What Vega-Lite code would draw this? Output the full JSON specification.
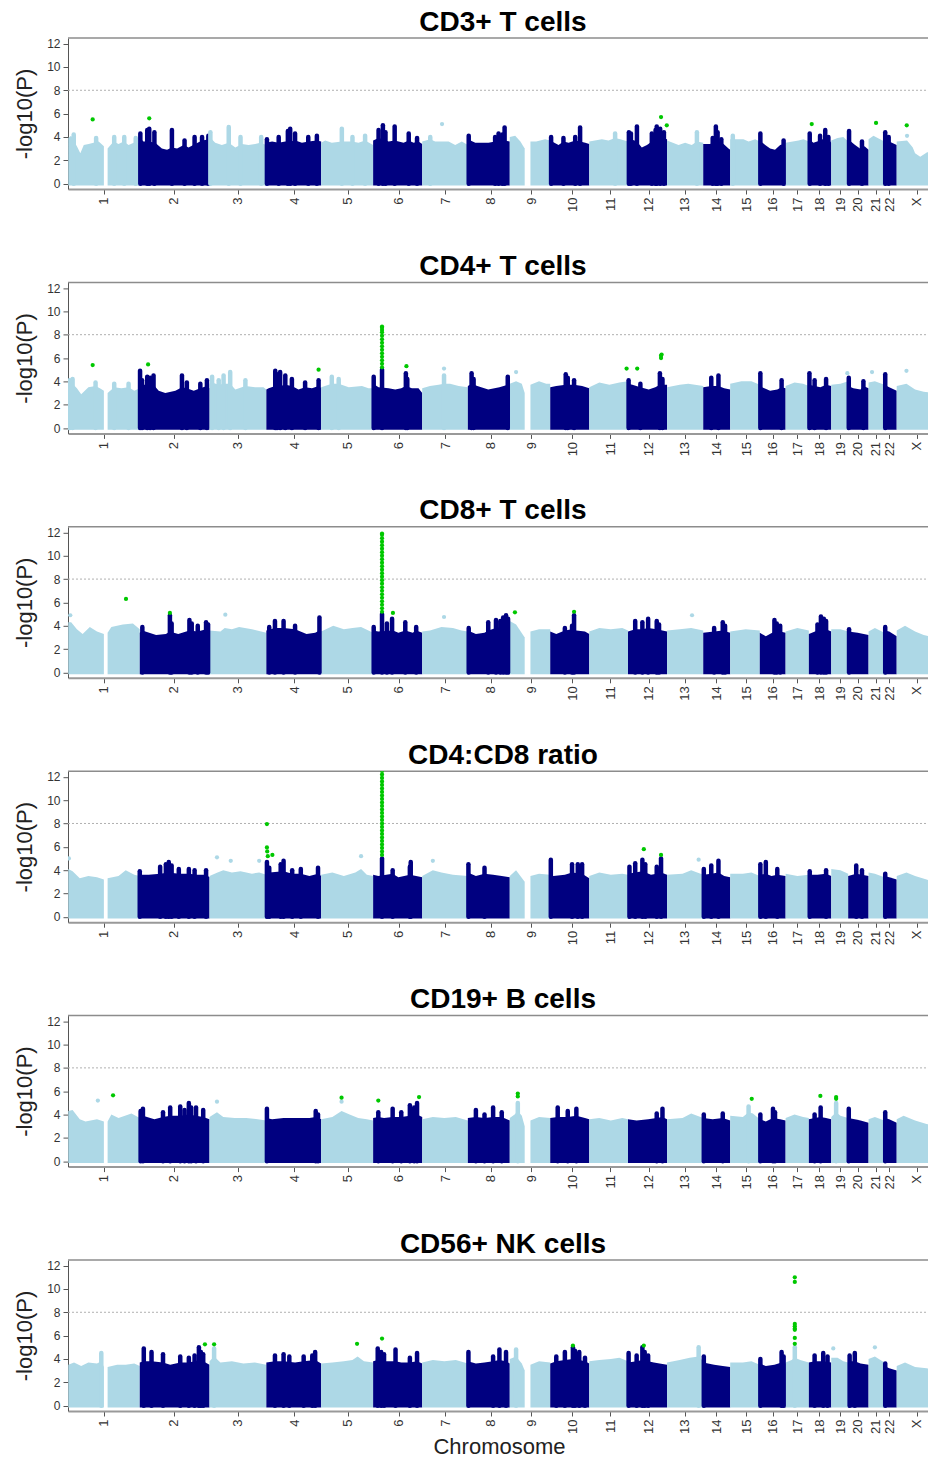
{
"$schema":"https://vega.github.io/schema/vega-lite/v6.json",
"padding":{"left":13,"top":8,"right":0,"bottom":0},
"background":"white",
"config":{"view":{"stroke":null},"font":"Liberation Sans",
"axis":{"grid":false,"tickSize":5,"labelPadding":3,"labelColor":"#333","titleColor":"#222","titleFontWeight":"normal","titleFontSize":22,"labelFont":"Liberation Sans","titleFont":"Liberation Sans"},
"axisY":{"domainColor":"#555","tickColor":"#555","labelFontSize":12,"titlePadding":10},
"axisX":{"domainColor":"#999","domainWidth":2,"tickColor":"#555","labelFontSize":13,"labelAngle":270,"titlePadding":3},
"title":{"fontSize":28,"fontWeight":"bold","color":"#000","anchor":"middle","dx":4,"offset":0.7,"baseline":"alphabetic","font":"Liberation Sans"}},
"datasets":{
"a1":[{"g":"1a","x":0,"y":3.9},{"g":"1a","x":10,"y":4.1},{"g":"1a","x":20,"y":3.6},{"g":"1a","x":30,"y":3.2},{"g":"1a","x":42,"y":2.6},{"g":"1a","x":54,"y":3.3},{"g":"1a","x":71,"y":3.4},{"g":"1a","x":88,"y":3.5},{"g":"1a","x":106,"y":3.6},{"g":"1a","x":124,"y":3.2},
{"g":"1b","x":137,"y":3.0},{"g":"1b","x":158,"y":3.6},{"g":"1b","x":175,"y":3.4},{"g":"1b","x":193,"y":3.6},{"g":"1b","x":210,"y":3.3},{"g":"1b","x":228,"y":3.5},{"g":"1b","x":249,"y":3.5},
{"g":"2","x":249,"y":3.9},{"g":"2","x":262,"y":3.6},{"g":"2","x":280,"y":3.6},{"g":"2","x":303,"y":3.5},{"g":"2","x":326,"y":3.0},{"g":"2","x":344,"y":2.9},{"g":"2","x":361,"y":3.1},{"g":"2","x":379,"y":3.0},{"g":"2","x":402,"y":3.3},{"g":"2","x":419,"y":3.1},{"g":"2","x":442,"y":3.4},{"g":"2","x":466,"y":3.7},{"g":"2","x":492,"y":3.8},
{"g":"3","x":492,"y":4.0},{"g":"3","x":512,"y":3.5},{"g":"3","x":535,"y":3.3},{"g":"3","x":559,"y":3.5},{"g":"3","x":582,"y":3.1},{"g":"3","x":605,"y":3.4},{"g":"3","x":628,"y":3.3},{"g":"3","x":651,"y":3.4},{"g":"3","x":669,"y":3.5},{"g":"3","x":690,"y":3.3},
{"g":"4","x":690,"y":3.5},{"g":"4","x":710,"y":3.6},{"g":"4","x":733,"y":3.5},{"g":"4","x":756,"y":3.6},{"g":"4","x":773,"y":3.6},{"g":"4","x":791,"y":3.7},{"g":"4","x":814,"y":3.5},{"g":"4","x":837,"y":3.6},{"g":"4","x":866,"y":3.7},{"g":"4","x":881,"y":3.6},
{"g":"5","x":881,"y":3.5},{"g":"5","x":895,"y":3.7},{"g":"5","x":918,"y":3.5},{"g":"5","x":953,"y":3.6},{"g":"5","x":988,"y":3.6},{"g":"5","x":1011,"y":3.5},{"g":"5","x":1034,"y":3.7},{"g":"5","x":1062,"y":3.3},
{"g":"6","x":1062,"y":3.7},{"g":"6","x":1081,"y":3.9},{"g":"6","x":1096,"y":3.8},{"g":"6","x":1116,"y":3.6},{"g":"6","x":1137,"y":3.7},{"g":"6","x":1151,"y":3.6},{"g":"6","x":1168,"y":3.5},{"g":"6","x":1186,"y":3.7},{"g":"6","x":1203,"y":3.5},{"g":"6","x":1220,"y":3.6},{"g":"6","x":1233,"y":3.4},
{"g":"7","x":1233,"y":3.6},{"g":"7","x":1261,"y":3.8},{"g":"7","x":1278,"y":3.6},{"g":"7","x":1302,"y":3.6},{"g":"7","x":1325,"y":3.6},{"g":"7","x":1348,"y":3.3},{"g":"7","x":1371,"y":3.6},{"g":"7","x":1392,"y":3.3},
{"g":"8","x":1392,"y":3.8},{"g":"8","x":1418,"y":3.5},{"g":"8","x":1441,"y":3.5},{"g":"8","x":1464,"y":3.5},{"g":"8","x":1487,"y":3.6},{"g":"8","x":1499,"y":3.7},{"g":"8","x":1520,"y":3.7},{"g":"8","x":1538,"y":3.6},
{"g":"9a","x":1538,"y":4.0},{"g":"9a","x":1557,"y":4.1},{"g":"9a","x":1575,"y":3.6},{"g":"9a","x":1590,"y":3.0},
{"g":"9b","x":1610,"y":3.6},{"g":"9b","x":1630,"y":3.6},{"g":"9b","x":1661,"y":3.8},{"g":"9b","x":1679,"y":3.7},
{"g":"10","x":1679,"y":3.7},{"g":"10","x":1708,"y":3.3},{"g":"10","x":1725,"y":3.6},{"g":"10","x":1743,"y":3.5},{"g":"10","x":1766,"y":3.7},{"g":"10","x":1783,"y":3.6},{"g":"10","x":1801,"y":3.5},{"g":"10","x":1815,"y":3.4},
{"g":"11","x":1815,"y":3.6},{"g":"11","x":1859,"y":3.8},{"g":"11","x":1882,"y":3.7},{"g":"11","x":1905,"y":3.9},{"g":"11","x":1923,"y":3.8},{"g":"11","x":1950,"y":3.6},
{"g":"12","x":1950,"y":3.9},{"g":"12","x":1981,"y":3.6},{"g":"12","x":1998,"y":3.1},{"g":"12","x":2016,"y":3.3},{"g":"12","x":2033,"y":3.6},{"g":"12","x":2050,"y":3.8},{"g":"12","x":2068,"y":3.9},{"g":"12","x":2086,"y":3.8},
{"g":"13","x":2086,"y":3.7},{"g":"13","x":2126,"y":3.3},{"g":"13","x":2149,"y":3.5},{"g":"13","x":2172,"y":3.3},{"g":"13","x":2190,"y":3.6},{"g":"13","x":2212,"y":3.5},
{"g":"14","x":2212,"y":3.4},{"g":"14","x":2236,"y":3.4},{"g":"14","x":2256,"y":3.6},{"g":"14","x":2265,"y":3.6},{"g":"14","x":2283,"y":3.4},{"g":"14","x":2300,"y":3.0},{"g":"14","x":2306,"y":2.9},
{"g":"15","x":2306,"y":3.8},{"g":"15","x":2352,"y":3.8},{"g":"15","x":2370,"y":3.6},{"g":"15","x":2393,"y":3.8},{"g":"15","x":2409,"y":3.6},
{"g":"16","x":2409,"y":3.7},{"g":"16","x":2428,"y":3.3},{"g":"16","x":2445,"y":3.0},{"g":"16","x":2462,"y":2.9},{"g":"16","x":2480,"y":3.3},{"g":"16","x":2492,"y":3.4},{"g":"16","x":2499,"y":3.0},
{"g":"17","x":2499,"y":3.5},{"g":"17","x":2544,"y":3.7},{"g":"17","x":2561,"y":3.8},{"g":"17","x":2580,"y":3.6},
{"g":"18","x":2580,"y":3.8},{"g":"18","x":2596,"y":3.5},{"g":"18","x":2619,"y":3.7},{"g":"18","x":2637,"y":3.9},{"g":"18","x":2648,"y":3.8},{"g":"18","x":2658,"y":3.5},
{"g":"19","x":2658,"y":3.7},{"g":"19","x":2680,"y":3.9},{"g":"19","x":2700,"y":4.0},{"g":"19","x":2717,"y":3.6},
{"g":"20","x":2717,"y":3.8},{"g":"20","x":2741,"y":3.3},{"g":"20","x":2758,"y":3.0},{"g":"20","x":2774,"y":3.2},{"g":"20","x":2788,"y":2.9},
{"g":"21","x":2788,"y":3.8},{"g":"21","x":2805,"y":4.1},{"g":"21","x":2843,"y":3.6},
{"g":"22","x":2843,"y":3.9},{"g":"22","x":2860,"y":3.6},{"g":"22","x":2886,"y":3.3},
{"g":"X","x":2886,"y":3.6},{"g":"X","x":2922,"y":3.7},{"g":"X","x":2942,"y":3.1},{"g":"X","x":2950,"y":2.6},{"g":"X","x":2968,"y":2.3},{"g":"X","x":2992,"y":2.7},{"g":"X","x":3034,"y":2.7}],
"s1":[{"g":"1a","x":19,"y":4.2},{"g":"1a","x":97,"y":3.9},{"g":"1b","x":160,"y":4.0},{"g":"1b","x":195,"y":4.0},{"g":"1b","x":235,"y":3.9},
{"g":"2","x":251,"y":4.3},{"g":"2","x":275,"y":4.6},{"g":"2","x":282,"y":4.7},{"g":"2","x":300,"y":4.4},{"g":"2","x":361,"y":4.6},{"g":"2","x":405,"y":3.7},{"g":"2","x":440,"y":4.0},{"g":"2","x":466,"y":4.0},{"g":"2","x":488,"y":4.1},
{"g":"3","x":495,"y":4.4},{"g":"3","x":559,"y":4.85},{"g":"3","x":600,"y":4.0},{"g":"3","x":672,"y":4.0},
{"g":"4","x":692,"y":3.8},{"g":"4","x":733,"y":4.0},{"g":"4","x":765,"y":4.5},{"g":"4","x":773,"y":4.7},{"g":"4","x":790,"y":4.3},{"g":"4","x":836,"y":4.0},{"g":"4","x":866,"y":4.1},
{"g":"5","x":953,"y":4.7},{"g":"5","x":990,"y":4.0},{"g":"5","x":1034,"y":4.1},
{"g":"6","x":1081,"y":4.6},{"g":"6","x":1096,"y":5.0},{"g":"6","x":1105,"y":4.4},{"g":"6","x":1137,"y":4.9},{"g":"6","x":1186,"y":4.3},{"g":"6","x":1215,"y":3.9},
{"g":"7","x":1261,"y":4.0},
{"g":"8","x":1395,"y":4.1},{"g":"8","x":1487,"y":4.0},{"g":"8","x":1499,"y":4.3},{"g":"8","x":1512,"y":4.2},{"g":"8","x":1520,"y":4.8},
{"g":"10","x":1682,"y":4.0},{"g":"10","x":1725,"y":3.9},{"g":"10","x":1766,"y":4.0},{"g":"10","x":1783,"y":4.8},
{"g":"11","x":1905,"y":4.3},
{"g":"12","x":1953,"y":4.4},{"g":"12","x":1960,"y":4.3},{"g":"12","x":1981,"y":4.9},{"g":"12","x":2033,"y":4.3},{"g":"12","x":2046,"y":4.6},{"g":"12","x":2050,"y":4.9},{"g":"12","x":2062,"y":4.7},{"g":"12","x":2075,"y":4.4},
{"g":"13","x":2190,"y":4.4},
{"g":"14","x":2245,"y":3.9},{"g":"14","x":2256,"y":4.9},{"g":"14","x":2262,"y":4.4},{"g":"14","x":2275,"y":3.8},
{"g":"15","x":2315,"y":4.1},
{"g":"16","x":2411,"y":4.3},{"g":"16","x":2492,"y":3.7},
{"g":"18","x":2583,"y":4.3},{"g":"18","x":2619,"y":4.1},{"g":"18","x":2637,"y":4.6},{"g":"18","x":2648,"y":4.0},
{"g":"20","x":2720,"y":4.5},{"g":"20","x":2765,"y":3.6},
{"g":"22","x":2846,"y":4.4},{"g":"22","x":2858,"y":4.0}],
"p1":[{"g":"7","x":1302,"y":5.1},{"g":"X","x":2922,"y":4.1},
{"g":"G","x":85,"y":5.5},{"g":"G","x":282,"y":5.6},{"g":"G","x":2065,"y":5.7},{"g":"G","x":2085,"y":5.0},{"g":"G","x":2590,"y":5.1},{"g":"G","x":2814,"y":5.2},{"g":"G","x":2921,"y":5.0}],
"a2":[{"g":"1a","x":0,"y":3.9},{"g":"1a","x":15,"y":3.8},{"g":"1a","x":30,"y":3.4},{"g":"1a","x":45,"y":2.9},{"g":"1a","x":70,"y":3.5},{"g":"1a","x":95,"y":3.6},{"g":"1a","x":110,"y":3.4},{"g":"1a","x":124,"y":3.2},
{"g":"1b","x":137,"y":3.0},{"g":"1b","x":160,"y":3.5},{"g":"1b","x":185,"y":3.4},{"g":"1b","x":210,"y":3.5},{"g":"1b","x":230,"y":3.2},{"g":"1b","x":249,"y":3.4},
{"g":"2","x":249,"y":3.9},{"g":"2","x":257,"y":3.7},{"g":"2","x":280,"y":3.7},{"g":"2","x":297,"y":3.7},{"g":"2","x":315,"y":3.2},{"g":"2","x":338,"y":3.0},{"g":"2","x":373,"y":3.2},{"g":"2","x":396,"y":3.5},{"g":"2","x":413,"y":3.4},{"g":"2","x":437,"y":3.2},{"g":"2","x":460,"y":3.4},{"g":"2","x":483,"y":3.6},{"g":"2","x":492,"y":3.4},
{"g":"3","x":492,"y":3.8},{"g":"3","x":501,"y":3.9},{"g":"3","x":524,"y":3.7},{"g":"3","x":541,"y":3.8},{"g":"3","x":564,"y":3.8},{"g":"3","x":582,"y":3.3},{"g":"3","x":617,"y":3.6},{"g":"3","x":651,"y":3.5},{"g":"3","x":680,"y":3.5},{"g":"3","x":690,"y":3.3},
{"g":"4","x":690,"y":3.3},{"g":"4","x":698,"y":3.4},{"g":"4","x":721,"y":3.6},{"g":"4","x":738,"y":3.6},{"g":"4","x":756,"y":3.7},{"g":"4","x":779,"y":3.6},{"g":"4","x":802,"y":3.3},{"g":"4","x":825,"y":3.5},{"g":"4","x":849,"y":3.4},{"g":"4","x":872,"y":3.6},{"g":"4","x":881,"y":3.4},
{"g":"5","x":881,"y":3.5},{"g":"5","x":918,"y":3.8},{"g":"5","x":942,"y":3.8},{"g":"5","x":977,"y":3.5},{"g":"5","x":1023,"y":3.6},{"g":"5","x":1046,"y":3.4},{"g":"5","x":1062,"y":3.4},
{"g":"6","x":1062,"y":3.8},{"g":"6","x":1081,"y":3.5},{"g":"6","x":1116,"y":3.4},{"g":"6","x":1139,"y":3.3},{"g":"6","x":1160,"y":3.4},{"g":"6","x":1176,"y":3.6},{"g":"6","x":1197,"y":3.4},{"g":"6","x":1220,"y":3.4},{"g":"6","x":1233,"y":3.0},
{"g":"7","x":1233,"y":3.4},{"g":"7","x":1260,"y":3.6},{"g":"7","x":1290,"y":3.7},{"g":"7","x":1309,"y":3.8},{"g":"7","x":1330,"y":3.8},{"g":"7","x":1360,"y":3.6},{"g":"7","x":1392,"y":3.5},
{"g":"8","x":1392,"y":3.6},{"g":"8","x":1405,"y":3.8},{"g":"8","x":1425,"y":3.6},{"g":"8","x":1463,"y":3.3},{"g":"8","x":1502,"y":3.5},{"g":"8","x":1531,"y":3.7},{"g":"8","x":1538,"y":3.5},
{"g":"9a","x":1538,"y":3.8},{"g":"9a","x":1560,"y":4.0},{"g":"9a","x":1580,"y":3.8},{"g":"9a","x":1590,"y":3.0},
{"g":"9b","x":1610,"y":3.7},{"g":"9b","x":1640,"y":4.0},{"g":"9b","x":1665,"y":3.8},{"g":"9b","x":1679,"y":3.8},
{"g":"10","x":1679,"y":3.5},{"g":"10","x":1700,"y":3.6},{"g":"10","x":1733,"y":3.7},{"g":"10","x":1762,"y":3.7},{"g":"10","x":1790,"y":3.6},{"g":"10","x":1815,"y":3.4},
{"g":"11","x":1815,"y":3.5},{"g":"11","x":1850,"y":3.9},{"g":"11","x":1885,"y":3.7},{"g":"11","x":1920,"y":3.9},{"g":"11","x":1950,"y":4.0},
{"g":"12","x":1950,"y":3.8},{"g":"12","x":1965,"y":3.7},{"g":"12","x":1993,"y":3.5},{"g":"12","x":2022,"y":3.3},{"g":"12","x":2045,"y":3.5},{"g":"12","x":2061,"y":3.7},{"g":"12","x":2086,"y":3.7},
{"g":"13","x":2086,"y":3.5},{"g":"13","x":2130,"y":3.7},{"g":"13","x":2160,"y":3.8},{"g":"13","x":2212,"y":3.6},
{"g":"14","x":2212,"y":3.5},{"g":"14","x":2240,"y":3.6},{"g":"14","x":2265,"y":3.6},{"g":"14","x":2285,"y":3.4},{"g":"14","x":2306,"y":3.3},
{"g":"15","x":2306,"y":3.8},{"g":"15","x":2345,"y":4.0},{"g":"15","x":2380,"y":4.0},{"g":"15","x":2409,"y":3.7},
{"g":"16","x":2409,"y":3.6},{"g":"16","x":2425,"y":3.4},{"g":"16","x":2445,"y":3.2},{"g":"16","x":2470,"y":3.3},{"g":"16","x":2485,"y":3.5},{"g":"16","x":2499,"y":3.4},
{"g":"17","x":2499,"y":3.6},{"g":"17","x":2530,"y":3.9},{"g":"17","x":2560,"y":3.8},{"g":"17","x":2580,"y":3.6},
{"g":"18","x":2580,"y":3.7},{"g":"18","x":2600,"y":3.6},{"g":"18","x":2620,"y":3.5},{"g":"18","x":2640,"y":3.7},{"g":"18","x":2658,"y":3.6},
{"g":"19","x":2658,"y":3.7},{"g":"19","x":2690,"y":3.8},{"g":"19","x":2717,"y":4.0},
{"g":"20","x":2717,"y":3.6},{"g":"20","x":2735,"y":3.4},{"g":"20","x":2760,"y":3.3},{"g":"20","x":2770,"y":3.6},{"g":"20","x":2788,"y":3.4},
{"g":"21","x":2788,"y":3.9},{"g":"21","x":2810,"y":4.0},{"g":"21","x":2843,"y":3.7},
{"g":"22","x":2843,"y":3.7},{"g":"22","x":2860,"y":3.5},{"g":"22","x":2886,"y":3.2},
{"g":"X","x":2886,"y":3.6},{"g":"X","x":2920,"y":3.8},{"g":"X","x":2950,"y":3.3},{"g":"X","x":2980,"y":3.1},{"g":"X","x":3034,"y":3.0}],
"s2":[{"g":"1a","x":5,"y":4.1},{"g":"1a","x":15,"y":4.2},{"g":"1a","x":95,"y":3.9},{"g":"1b","x":160,"y":3.8},{"g":"1b","x":210,"y":3.8},
{"g":"2","x":250,"y":4.9},{"g":"2","x":257,"y":4.1},{"g":"2","x":275,"y":4.4},{"g":"2","x":285,"y":4.3},{"g":"2","x":297,"y":4.5},{"g":"2","x":396,"y":4.5},{"g":"2","x":413,"y":3.9},{"g":"2","x":460,"y":3.8},{"g":"2","x":483,"y":4.1},
{"g":"3","x":501,"y":4.4},{"g":"3","x":524,"y":4.1},{"g":"3","x":541,"y":4.5},{"g":"3","x":564,"y":4.8},{"g":"3","x":617,"y":4.1},
{"g":"4","x":721,"y":4.9},{"g":"4","x":727,"y":4.6},{"g":"4","x":738,"y":4.8},{"g":"4","x":756,"y":4.5},{"g":"4","x":779,"y":4.2},{"g":"4","x":825,"y":3.9},{"g":"4","x":872,"y":4.1},
{"g":"5","x":918,"y":4.4},{"g":"5","x":942,"y":4.2},
{"g":"6","x":1064,"y":4.4},{"g":"6","x":1093,"y":5.0},{"g":"6","x":1176,"y":4.7},{"g":"6","x":1181,"y":4.2},
{"g":"7","x":1309,"y":4.5},
{"g":"8","x":1405,"y":4.7},{"g":"8","x":1412,"y":4.2},{"g":"8","x":1531,"y":4.4},
{"g":"10","x":1733,"y":4.6},{"g":"10","x":1740,"y":4.3},{"g":"10","x":1762,"y":4.1},
{"g":"12","x":1952,"y":4.1},{"g":"12","x":1993,"y":3.8},{"g":"12","x":2061,"y":4.7},{"g":"12","x":2070,"y":4.2},
{"g":"14","x":2240,"y":4.3},{"g":"14","x":2265,"y":4.5},
{"g":"16","x":2411,"y":4.7},{"g":"16","x":2485,"y":4.1},
{"g":"18","x":2582,"y":4.7},{"g":"18","x":2600,"y":4.1},{"g":"18","x":2640,"y":4.2},
{"g":"20","x":2719,"y":4.3},{"g":"20","x":2770,"y":4.0},
{"g":"22","x":2846,"y":4.6}],
"p2":[{"g":"7","x":1309,"y":5.1},{"g":"9a","x":1560,"y":4.8},{"g":"19","x":2714,"y":4.7},{"g":"21","x":2800,"y":4.8},{"g":"X","x":2920,"y":4.9},
{"g":"G","x":85,"y":5.4},{"g":"G","x":278,"y":5.45},{"g":"G","x":872,"y":5.0},{"g":"G","x":1093,"y":5.2},{"g":"G","x":1093,"y":5.5},{"g":"G","x":1093,"y":5.8},{"g":"G","x":1093,"y":6.1},{"g":"G","x":1093,"y":6.4},{"g":"G","x":1093,"y":6.7},{"g":"G","x":1093,"y":7.0},{"g":"G","x":1093,"y":7.3},{"g":"G","x":1093,"y":7.6},{"g":"G","x":1093,"y":7.9},{"g":"G","x":1093,"y":8.2},{"g":"G","x":1093,"y":8.4},{"g":"G","x":1093,"y":8.6},{"g":"G","x":1093,"y":8.7},{"g":"G","x":1178,"y":5.3},{"g":"G","x":1945,"y":5.1},{"g":"G","x":1982,"y":5.1},{"g":"G","x":2065,"y":6.0},{"g":"G","x":2065,"y":6.2},{"g":"G","x":2067,"y":6.3}],
"a3":[{"g":"1a","x":0,"y":4.3},{"g":"1a","x":10,"y":4.3},{"g":"1a","x":30,"y":3.7},{"g":"1a","x":50,"y":3.3},{"g":"1a","x":75,"y":3.9},{"g":"1a","x":100,"y":3.5},{"g":"1a","x":124,"y":3.3},
{"g":"1b","x":137,"y":3.4},{"g":"1b","x":150,"y":3.9},{"g":"1b","x":190,"y":4.1},{"g":"1b","x":225,"y":4.2},{"g":"1b","x":249,"y":3.7},
{"g":"2","x":249,"y":3.4},{"g":"2","x":258,"y":3.6},{"g":"2","x":306,"y":3.2},{"g":"2","x":340,"y":3.3},{"g":"2","x":354,"y":3.5},{"g":"2","x":368,"y":3.4},{"g":"2","x":383,"y":3.3},{"g":"2","x":422,"y":3.6},{"g":"2","x":451,"y":3.5},{"g":"2","x":480,"y":3.7},{"g":"2","x":492,"y":3.4},
{"g":"3","x":492,"y":3.6},{"g":"3","x":530,"y":3.5},{"g":"3","x":545,"y":3.8},{"g":"3","x":570,"y":3.7},{"g":"3","x":595,"y":3.9},{"g":"3","x":640,"y":3.7},{"g":"3","x":690,"y":3.4},
{"g":"4","x":690,"y":3.6},{"g":"4","x":720,"y":3.8},{"g":"4","x":750,"y":3.8},{"g":"4","x":790,"y":3.7},{"g":"4","x":830,"y":3.3},{"g":"4","x":860,"y":3.4},{"g":"4","x":875,"y":3.6},{"g":"4","x":881,"y":3.5},
{"g":"5","x":881,"y":3.5},{"g":"5","x":923,"y":4.0},{"g":"5","x":960,"y":3.7},{"g":"5","x":990,"y":3.8},{"g":"5","x":1020,"y":3.9},{"g":"5","x":1062,"y":3.4},
{"g":"6","x":1062,"y":3.6},{"g":"6","x":1080,"y":3.5},{"g":"6","x":1131,"y":3.6},{"g":"6","x":1150,"y":3.4},{"g":"6","x":1174,"y":3.6},{"g":"6","x":1200,"y":3.4},{"g":"6","x":1212,"y":3.6},{"g":"6","x":1233,"y":3.4},
{"g":"7","x":1233,"y":3.5},{"g":"7","x":1260,"y":3.6},{"g":"7","x":1300,"y":3.9},{"g":"7","x":1340,"y":3.8},{"g":"7","x":1370,"y":3.6},{"g":"7","x":1392,"y":3.5},
{"g":"8","x":1392,"y":3.6},{"g":"8","x":1420,"y":3.3},{"g":"8","x":1450,"y":3.4},{"g":"8","x":1463,"y":3.6},{"g":"8","x":1490,"y":3.8},{"g":"8","x":1510,"y":3.9},{"g":"8","x":1525,"y":4.0},{"g":"8","x":1538,"y":3.9},
{"g":"9a","x":1538,"y":4.4},{"g":"9a","x":1560,"y":4.1},{"g":"9a","x":1590,"y":3.0},
{"g":"9b","x":1610,"y":3.5},{"g":"9b","x":1640,"y":3.7},{"g":"9b","x":1679,"y":3.7},
{"g":"10","x":1679,"y":3.5},{"g":"10","x":1700,"y":3.3},{"g":"10","x":1730,"y":3.6},{"g":"10","x":1755,"y":3.7},{"g":"10","x":1770,"y":3.6},{"g":"10","x":1800,"y":3.5},{"g":"10","x":1815,"y":3.3},
{"g":"11","x":1815,"y":3.5},{"g":"11","x":1850,"y":3.8},{"g":"11","x":1890,"y":3.7},{"g":"11","x":1930,"y":3.8},{"g":"11","x":1950,"y":3.6},
{"g":"12","x":1950,"y":3.5},{"g":"12","x":1975,"y":3.7},{"g":"12","x":2000,"y":3.7},{"g":"12","x":2020,"y":3.8},{"g":"12","x":2050,"y":3.7},{"g":"12","x":2070,"y":3.6},{"g":"12","x":2086,"y":3.5},
{"g":"13","x":2086,"y":3.6},{"g":"13","x":2130,"y":3.7},{"g":"13","x":2170,"y":3.8},{"g":"13","x":2212,"y":3.6},
{"g":"14","x":2212,"y":3.4},{"g":"14","x":2250,"y":3.5},{"g":"14","x":2280,"y":3.6},{"g":"14","x":2306,"y":3.4},
{"g":"15","x":2306,"y":3.5},{"g":"15","x":2360,"y":3.7},{"g":"15","x":2409,"y":3.6},
{"g":"16","x":2409,"y":3.4},{"g":"16","x":2430,"y":3.1},{"g":"16","x":2460,"y":3.5},{"g":"16","x":2480,"y":3.5},{"g":"16","x":2499,"y":3.4},
{"g":"17","x":2499,"y":3.5},{"g":"17","x":2540,"y":3.8},{"g":"17","x":2580,"y":3.6},
{"g":"18","x":2580,"y":3.3},{"g":"18","x":2610,"y":3.6},{"g":"18","x":2622,"y":3.7},{"g":"18","x":2640,"y":3.7},{"g":"18","x":2658,"y":3.5},
{"g":"19","x":2658,"y":3.7},{"g":"19","x":2690,"y":3.7},{"g":"19","x":2717,"y":3.5},
{"g":"20","x":2717,"y":3.5},{"g":"20","x":2750,"y":3.4},{"g":"20","x":2788,"y":3.2},
{"g":"21","x":2788,"y":3.5},{"g":"21","x":2810,"y":3.8},{"g":"21","x":2843,"y":3.4},
{"g":"22","x":2843,"y":3.6},{"g":"22","x":2860,"y":3.5},{"g":"22","x":2886,"y":3.1},
{"g":"X","x":2886,"y":3.6},{"g":"X","x":2915,"y":4.0},{"g":"X","x":2950,"y":3.5},{"g":"X","x":2980,"y":3.2},{"g":"X","x":3034,"y":2.9}],
"s3":[{"g":"2","x":258,"y":3.9},{"g":"2","x":354,"y":4.9},{"g":"2","x":360,"y":4.2},{"g":"2","x":422,"y":4.5},{"g":"2","x":430,"y":4.2},{"g":"2","x":451,"y":4.0},{"g":"2","x":480,"y":4.3},{"g":"2","x":487,"y":4.1},
{"g":"4","x":700,"y":3.9},{"g":"4","x":720,"y":4.4},{"g":"4","x":750,"y":4.4},{"g":"4","x":790,"y":4.0},{"g":"4","x":875,"y":4.7},
{"g":"6","x":1064,"y":3.9},{"g":"6","x":1093,"y":5.0},{"g":"6","x":1110,"y":4.2},{"g":"6","x":1128,"y":4.6},{"g":"6","x":1174,"y":4.3},{"g":"6","x":1212,"y":3.9},
{"g":"8","x":1395,"y":3.8},{"g":"8","x":1463,"y":4.3},{"g":"8","x":1490,"y":4.5},{"g":"8","x":1505,"y":4.4},{"g":"8","x":1515,"y":4.7},{"g":"8","x":1525,"y":4.9},{"g":"8","x":1532,"y":4.6},
{"g":"10","x":1730,"y":3.8},{"g":"10","x":1755,"y":4.0},{"g":"10","x":1762,"y":4.9},
{"g":"12","x":1975,"y":4.4},{"g":"12","x":2000,"y":4.3},{"g":"12","x":2020,"y":4.6},{"g":"12","x":2050,"y":4.4},{"g":"12","x":2058,"y":4.1},
{"g":"14","x":2250,"y":3.8},{"g":"14","x":2280,"y":4.3},{"g":"14","x":2288,"y":4.0},
{"g":"16","x":2460,"y":4.5},{"g":"16","x":2468,"y":4.2},{"g":"16","x":2480,"y":4.0},
{"g":"18","x":2610,"y":4.1},{"g":"18","x":2622,"y":4.8},{"g":"18","x":2632,"y":4.6},{"g":"18","x":2640,"y":4.4},
{"g":"20","x":2720,"y":3.7},
{"g":"22","x":2846,"y":3.9}],
"p3":[{"g":"1a","x":7,"y":4.9},{"g":"3","x":547,"y":4.95},{"g":"7","x":1309,"y":4.75},{"g":"13","x":2173,"y":4.9},
{"g":"G","x":201,"y":6.3},{"g":"G","x":354,"y":5.1},{"g":"G","x":1131,"y":5.1},{"g":"G","x":1556,"y":5.15},{"g":"G","x":1762,"y":5.2},
{"g":"G","x":1093,"y":5.2},{"g":"G","x":1093,"y":5.5},{"g":"G","x":1093,"y":5.8},{"g":"G","x":1093,"y":6.1},{"g":"G","x":1093,"y":6.4},{"g":"G","x":1093,"y":6.7},{"g":"G","x":1093,"y":7.0},{"g":"G","x":1093,"y":7.3},{"g":"G","x":1093,"y":7.6},{"g":"G","x":1093,"y":7.9},{"g":"G","x":1093,"y":8.2},{"g":"G","x":1093,"y":8.5},{"g":"G","x":1093,"y":8.8},{"g":"G","x":1093,"y":9.1},{"g":"G","x":1093,"y":9.4},{"g":"G","x":1093,"y":9.7},{"g":"G","x":1093,"y":10.0},{"g":"G","x":1093,"y":10.3},{"g":"G","x":1093,"y":10.6},{"g":"G","x":1093,"y":10.9},{"g":"G","x":1093,"y":11.2},{"g":"G","x":1093,"y":11.5},{"g":"G","x":1093,"y":11.8},{"g":"G","x":1093,"y":11.9}],
"a4":[{"g":"1a","x":0,"y":4.1},{"g":"1a","x":15,"y":3.9},{"g":"1a","x":40,"y":3.3},{"g":"1a","x":70,"y":3.5},{"g":"1a","x":100,"y":3.4},{"g":"1a","x":124,"y":3.2},
{"g":"1b","x":137,"y":3.3},{"g":"1b","x":175,"y":3.5},{"g":"1b","x":200,"y":4.0},{"g":"1b","x":230,"y":3.6},{"g":"1b","x":249,"y":3.5},
{"g":"2","x":249,"y":3.6},{"g":"2","x":280,"y":3.6},{"g":"2","x":320,"y":3.7},{"g":"2","x":350,"y":3.8},{"g":"2","x":385,"y":3.7},{"g":"2","x":420,"y":3.7},{"g":"2","x":450,"y":3.6},{"g":"2","x":480,"y":3.6},{"g":"2","x":492,"y":3.4},
{"g":"3","x":492,"y":3.5},{"g":"3","x":520,"y":3.8},{"g":"3","x":540,"y":4.0},{"g":"3","x":570,"y":3.8},{"g":"3","x":600,"y":3.9},{"g":"3","x":640,"y":3.7},{"g":"3","x":665,"y":3.8},{"g":"3","x":690,"y":3.6},
{"g":"4","x":690,"y":3.9},{"g":"4","x":700,"y":3.8},{"g":"4","x":750,"y":3.9},{"g":"4","x":780,"y":3.7},{"g":"4","x":810,"y":3.7},{"g":"4","x":840,"y":3.5},{"g":"4","x":870,"y":3.7},{"g":"4","x":881,"y":3.5},
{"g":"5","x":881,"y":3.6},{"g":"5","x":920,"y":3.8},{"g":"5","x":960,"y":3.5},{"g":"5","x":1000,"y":3.8},{"g":"5","x":1020,"y":4.1},{"g":"5","x":1040,"y":3.6},{"g":"5","x":1062,"y":3.5},
{"g":"6","x":1062,"y":3.6},{"g":"6","x":1080,"y":3.5},{"g":"6","x":1130,"y":3.7},{"g":"6","x":1150,"y":3.4},{"g":"6","x":1190,"y":3.6},{"g":"6","x":1212,"y":3.5},{"g":"6","x":1233,"y":3.4},
{"g":"7","x":1233,"y":3.5},{"g":"7","x":1270,"y":4.0},{"g":"7","x":1300,"y":3.8},{"g":"7","x":1340,"y":3.6},{"g":"7","x":1392,"y":3.5},
{"g":"8","x":1392,"y":3.8},{"g":"8","x":1420,"y":3.5},{"g":"8","x":1450,"y":3.7},{"g":"8","x":1480,"y":3.6},{"g":"8","x":1510,"y":3.5},{"g":"8","x":1538,"y":3.4},
{"g":"9a","x":1538,"y":3.5},{"g":"9a","x":1560,"y":4.0},{"g":"9a","x":1590,"y":3.0},
{"g":"9b","x":1610,"y":3.5},{"g":"9b","x":1640,"y":3.7},{"g":"9b","x":1679,"y":3.6},
{"g":"10","x":1679,"y":3.6},{"g":"10","x":1690,"y":3.5},{"g":"10","x":1730,"y":3.6},{"g":"10","x":1755,"y":3.8},{"g":"10","x":1790,"y":3.7},{"g":"10","x":1815,"y":3.3},
{"g":"11","x":1815,"y":3.5},{"g":"11","x":1850,"y":3.8},{"g":"11","x":1890,"y":3.6},{"g":"11","x":1930,"y":3.7},{"g":"11","x":1950,"y":3.6},
{"g":"12","x":1950,"y":3.7},{"g":"12","x":1975,"y":3.8},{"g":"12","x":2000,"y":3.9},{"g":"12","x":2030,"y":3.6},{"g":"12","x":2050,"y":3.7},{"g":"12","x":2065,"y":3.8},{"g":"12","x":2086,"y":3.6},
{"g":"13","x":2086,"y":3.6},{"g":"13","x":2140,"y":3.7},{"g":"13","x":2170,"y":4.0},{"g":"13","x":2212,"y":3.6},
{"g":"14","x":2212,"y":3.6},{"g":"14","x":2240,"y":3.7},{"g":"14","x":2265,"y":3.8},{"g":"14","x":2285,"y":3.5},{"g":"14","x":2306,"y":3.4},
{"g":"15","x":2306,"y":3.7},{"g":"15","x":2350,"y":3.7},{"g":"15","x":2380,"y":3.8},{"g":"15","x":2409,"y":3.5},
{"g":"16","x":2409,"y":3.6},{"g":"16","x":2430,"y":3.7},{"g":"16","x":2450,"y":3.5},{"g":"16","x":2470,"y":3.6},{"g":"16","x":2499,"y":3.5},
{"g":"17","x":2499,"y":3.7},{"g":"17","x":2540,"y":3.5},{"g":"17","x":2580,"y":3.6},
{"g":"18","x":2580,"y":3.6},{"g":"18","x":2610,"y":3.6},{"g":"18","x":2640,"y":3.7},{"g":"18","x":2658,"y":3.5},
{"g":"19","x":2658,"y":4.1},{"g":"19","x":2690,"y":4.0},{"g":"19","x":2717,"y":3.7},
{"g":"20","x":2717,"y":3.5},{"g":"20","x":2745,"y":3.7},{"g":"20","x":2765,"y":3.6},{"g":"20","x":2788,"y":3.5},
{"g":"21","x":2788,"y":3.8},{"g":"21","x":2810,"y":3.7},{"g":"21","x":2843,"y":3.4},
{"g":"22","x":2843,"y":3.5},{"g":"22","x":2860,"y":3.4},{"g":"22","x":2886,"y":3.2},
{"g":"X","x":2886,"y":3.5},{"g":"X","x":2920,"y":3.8},{"g":"X","x":2950,"y":3.5},{"g":"X","x":2990,"y":3.2},{"g":"X","x":3034,"y":2.9}],
"s4":[{"g":"2","x":249,"y":3.9},{"g":"2","x":320,"y":4.3},{"g":"2","x":340,"y":4.5},{"g":"2","x":350,"y":4.7},{"g":"2","x":360,"y":4.4},{"g":"2","x":385,"y":4.1},{"g":"2","x":420,"y":4.1},{"g":"2","x":440,"y":4.0},{"g":"2","x":480,"y":4.0},
{"g":"4","x":692,"y":4.7},{"g":"4","x":700,"y":4.2},{"g":"4","x":740,"y":4.5},{"g":"4","x":750,"y":4.8},{"g":"4","x":780,"y":4.0},{"g":"4","x":810,"y":4.1},{"g":"4","x":870,"y":4.2},
{"g":"6","x":1093,"y":5.0},{"g":"6","x":1130,"y":4.0},{"g":"6","x":1190,"y":4.3},{"g":"6","x":1193,"y":4.7},
{"g":"8","x":1394,"y":4.5},{"g":"8","x":1450,"y":4.2},
{"g":"10","x":1681,"y":4.9},{"g":"10","x":1755,"y":4.5},{"g":"10","x":1775,"y":4.5},{"g":"10","x":1790,"y":4.5},
{"g":"12","x":1955,"y":4.3},{"g":"12","x":1975,"y":4.6},{"g":"12","x":2000,"y":4.9},{"g":"12","x":2010,"y":4.5},{"g":"12","x":2050,"y":4.3},{"g":"12","x":2065,"y":5.0},
{"g":"14","x":2214,"y":4.1},{"g":"14","x":2240,"y":4.4},{"g":"14","x":2265,"y":4.8},
{"g":"16","x":2411,"y":4.5},{"g":"16","x":2430,"y":4.7},{"g":"16","x":2470,"y":4.1},
{"g":"18","x":2583,"y":3.9},{"g":"18","x":2640,"y":4.0},
{"g":"20","x":2745,"y":4.4},{"g":"20","x":2765,"y":4.0},
{"g":"22","x":2846,"y":3.7}],
"p4":[{"g":"1a","x":2,"y":5.0},{"g":"3","x":518,"y":5.1},{"g":"3","x":566,"y":4.8},{"g":"3","x":665,"y":4.8},{"g":"5","x":1020,"y":5.2},{"g":"7","x":1270,"y":4.8},{"g":"13","x":2196,"y":4.9},
{"g":"G","x":692,"y":7.95},{"g":"G","x":692,"y":5.95},{"g":"G","x":693,"y":5.6},{"g":"G","x":695,"y":5.2},{"g":"G","x":711,"y":5.3},{"g":"G","x":2005,"y":5.8},{"g":"G","x":2065,"y":5.3},
{"g":"G","x":1093,"y":5.3},{"g":"G","x":1093,"y":5.6},{"g":"G","x":1093,"y":5.9},{"g":"G","x":1093,"y":6.2},{"g":"G","x":1093,"y":6.5},{"g":"G","x":1093,"y":6.8},{"g":"G","x":1093,"y":7.1},{"g":"G","x":1093,"y":7.4},{"g":"G","x":1093,"y":7.7},{"g":"G","x":1093,"y":8.0},{"g":"G","x":1093,"y":8.3},{"g":"G","x":1093,"y":8.6},{"g":"G","x":1093,"y":8.9},{"g":"G","x":1093,"y":9.2},{"g":"G","x":1093,"y":9.5},{"g":"G","x":1093,"y":9.8},{"g":"G","x":1093,"y":10.1},{"g":"G","x":1093,"y":10.4},{"g":"G","x":1093,"y":10.7},{"g":"G","x":1093,"y":11.0},{"g":"G","x":1093,"y":11.3},{"g":"G","x":1093,"y":11.6},{"g":"G","x":1093,"y":11.9},{"g":"G","x":1093,"y":12.2},{"g":"G","x":1093,"y":12.5}],
"a5":[{"g":"1a","x":0,"y":4.3},{"g":"1a","x":15,"y":4.4},{"g":"1a","x":40,"y":3.6},{"g":"1a","x":60,"y":3.4},{"g":"1a","x":100,"y":3.6},{"g":"1a","x":124,"y":3.4},
{"g":"1b","x":137,"y":3.4},{"g":"1b","x":150,"y":4.0},{"g":"1b","x":175,"y":3.7},{"g":"1b","x":220,"y":4.1},{"g":"1b","x":249,"y":3.7},
{"g":"2","x":249,"y":3.9},{"g":"2","x":260,"y":3.9},{"g":"2","x":300,"y":3.6},{"g":"2","x":330,"y":3.8},{"g":"2","x":355,"y":3.9},{"g":"2","x":390,"y":3.9},{"g":"2","x":420,"y":4.0},{"g":"2","x":445,"y":3.9},{"g":"2","x":470,"y":3.8},{"g":"2","x":492,"y":3.6},
{"g":"3","x":492,"y":3.8},{"g":"3","x":518,"y":4.2},{"g":"3","x":540,"y":3.8},{"g":"3","x":580,"y":3.7},{"g":"3","x":620,"y":3.7},{"g":"3","x":660,"y":3.6},{"g":"3","x":690,"y":3.5},
{"g":"4","x":690,"y":3.7},{"g":"4","x":710,"y":3.6},{"g":"4","x":750,"y":3.7},{"g":"4","x":800,"y":3.7},{"g":"4","x":840,"y":3.7},{"g":"4","x":862,"y":3.8},{"g":"4","x":881,"y":3.6},
{"g":"5","x":881,"y":3.6},{"g":"5","x":920,"y":3.8},{"g":"5","x":952,"y":4.3},{"g":"5","x":980,"y":4.0},{"g":"5","x":1010,"y":3.7},{"g":"5","x":1040,"y":3.6},{"g":"5","x":1062,"y":3.5},
{"g":"6","x":1062,"y":3.7},{"g":"6","x":1080,"y":3.8},{"g":"6","x":1100,"y":3.7},{"g":"6","x":1130,"y":3.8},{"g":"6","x":1160,"y":3.8},{"g":"6","x":1190,"y":3.9},{"g":"6","x":1215,"y":4.0},{"g":"6","x":1233,"y":3.8},
{"g":"7","x":1233,"y":3.6},{"g":"7","x":1270,"y":3.8},{"g":"7","x":1310,"y":3.7},{"g":"7","x":1350,"y":3.8},{"g":"7","x":1392,"y":3.5},
{"g":"8","x":1392,"y":3.7},{"g":"8","x":1420,"y":3.8},{"g":"8","x":1450,"y":3.7},{"g":"8","x":1480,"y":3.8},{"g":"8","x":1510,"y":3.8},{"g":"8","x":1538,"y":3.5},
{"g":"9a","x":1538,"y":3.7},{"g":"9a","x":1555,"y":4.0},{"g":"9a","x":1566,"y":4.3},{"g":"9a","x":1580,"y":3.9},{"g":"9a","x":1590,"y":3.0},
{"g":"9b","x":1610,"y":3.5},{"g":"9b","x":1640,"y":3.8},{"g":"9b","x":1679,"y":3.7},
{"g":"10","x":1679,"y":3.7},{"g":"10","x":1705,"y":3.8},{"g":"10","x":1740,"y":3.8},{"g":"10","x":1770,"y":3.9},{"g":"10","x":1800,"y":3.7},{"g":"10","x":1815,"y":3.6},
{"g":"11","x":1815,"y":3.6},{"g":"11","x":1850,"y":3.7},{"g":"11","x":1890,"y":3.5},{"g":"11","x":1930,"y":3.7},{"g":"11","x":1950,"y":3.6},
{"g":"12","x":1950,"y":3.6},{"g":"12","x":1980,"y":3.5},{"g":"12","x":2020,"y":3.6},{"g":"12","x":2050,"y":3.7},{"g":"12","x":2070,"y":3.8},{"g":"12","x":2086,"y":3.6},
{"g":"13","x":2086,"y":3.6},{"g":"13","x":2140,"y":3.7},{"g":"13","x":2170,"y":4.1},{"g":"13","x":2212,"y":3.7},
{"g":"14","x":2212,"y":3.7},{"g":"14","x":2245,"y":3.6},{"g":"14","x":2280,"y":3.7},{"g":"14","x":2306,"y":3.5},
{"g":"15","x":2306,"y":3.9},{"g":"15","x":2350,"y":3.8},{"g":"15","x":2370,"y":4.2},{"g":"15","x":2385,"y":4.1},{"g":"15","x":2409,"y":3.6},
{"g":"16","x":2409,"y":3.6},{"g":"16","x":2430,"y":3.4},{"g":"16","x":2455,"y":3.7},{"g":"16","x":2480,"y":3.6},{"g":"16","x":2499,"y":3.5},
{"g":"17","x":2499,"y":3.7},{"g":"17","x":2530,"y":4.0},{"g":"17","x":2560,"y":3.8},{"g":"17","x":2580,"y":3.7},
{"g":"18","x":2580,"y":3.6},{"g":"18","x":2600,"y":3.7},{"g":"18","x":2621,"y":3.8},{"g":"18","x":2640,"y":3.7},{"g":"18","x":2658,"y":3.6},
{"g":"19","x":2658,"y":3.8},{"g":"19","x":2675,"y":4.2},{"g":"19","x":2690,"y":3.9},{"g":"19","x":2717,"y":3.7},
{"g":"20","x":2717,"y":3.7},{"g":"20","x":2740,"y":3.6},{"g":"20","x":2760,"y":3.5},{"g":"20","x":2788,"y":3.3},
{"g":"21","x":2788,"y":3.6},{"g":"21","x":2810,"y":3.8},{"g":"21","x":2843,"y":3.5},
{"g":"22","x":2843,"y":3.7},{"g":"22","x":2860,"y":3.6},{"g":"22","x":2886,"y":3.3},
{"g":"X","x":2886,"y":3.6},{"g":"X","x":2910,"y":3.9},{"g":"X","x":2950,"y":3.5},{"g":"X","x":2990,"y":3.2},{"g":"X","x":3034,"y":3.0}],
"s5":[{"g":"2","x":252,"y":4.3},{"g":"2","x":260,"y":4.5},{"g":"2","x":330,"y":4.2},{"g":"2","x":355,"y":4.6},{"g":"2","x":390,"y":4.7},{"g":"2","x":405,"y":4.4},{"g":"2","x":420,"y":5.0},{"g":"2","x":428,"y":4.6},{"g":"2","x":445,"y":4.6},{"g":"2","x":470,"y":4.4},
{"g":"4","x":692,"y":4.5},{"g":"4","x":862,"y":4.3},{"g":"4","x":870,"y":4.0},
{"g":"6","x":1080,"y":4.2},{"g":"6","x":1130,"y":4.5},{"g":"6","x":1160,"y":4.2},{"g":"6","x":1190,"y":4.8},{"g":"6","x":1205,"y":4.6},{"g":"6","x":1215,"y":5.0},
{"g":"8","x":1420,"y":4.4},{"g":"8","x":1450,"y":4.0},{"g":"8","x":1480,"y":4.6},{"g":"8","x":1510,"y":4.2},
{"g":"9a","x":1566,"y":5.0},
{"g":"10","x":1705,"y":4.6},{"g":"10","x":1740,"y":4.3},{"g":"10","x":1770,"y":4.5},
{"g":"12","x":2050,"y":4.1},{"g":"12","x":2070,"y":4.5},
{"g":"14","x":2214,"y":4.0},{"g":"14","x":2280,"y":4.1},
{"g":"15","x":2370,"y":4.7},
{"g":"16","x":2411,"y":4.0},{"g":"16","x":2455,"y":4.5},{"g":"16","x":2462,"y":4.2},
{"g":"18","x":2600,"y":4.0},{"g":"18","x":2621,"y":4.6},
{"g":"19","x":2675,"y":5.0},
{"g":"20","x":2719,"y":4.5},
{"g":"22","x":2846,"y":4.2}],
"p5":[{"g":"1a","x":103,"y":5.2},{"g":"3","x":518,"y":5.1},{"g":"5","x":952,"y":5.1},
{"g":"G","x":156,"y":5.65},{"g":"G","x":952,"y":5.45},{"g":"G","x":1080,"y":5.2},{"g":"G","x":1222,"y":5.5},{"g":"G","x":1566,"y":5.8},{"g":"G","x":1566,"y":5.55},{"g":"G","x":2381,"y":5.35},{"g":"G","x":2620,"y":5.6},{"g":"G","x":2675,"y":5.5},{"g":"G","x":2675,"y":5.35}],
"a6":[{"g":"1a","x":0,"y":3.5},{"g":"1a","x":20,"y":3.7},{"g":"1a","x":45,"y":3.4},{"g":"1a","x":70,"y":3.7},{"g":"1a","x":100,"y":3.6},{"g":"1a","x":115,"y":3.8},{"g":"1a","x":124,"y":3.3},
{"g":"1b","x":137,"y":3.3},{"g":"1b","x":170,"y":3.5},{"g":"1b","x":200,"y":3.5},{"g":"1b","x":230,"y":3.6},{"g":"1b","x":249,"y":3.4},
{"g":"2","x":249,"y":3.7},{"g":"2","x":263,"y":3.8},{"g":"2","x":290,"y":3.8},{"g":"2","x":330,"y":3.7},{"g":"2","x":355,"y":3.5},{"g":"2","x":390,"y":3.7},{"g":"2","x":420,"y":3.7},{"g":"2","x":440,"y":3.8},{"g":"2","x":455,"y":3.9},{"g":"2","x":470,"y":3.8},{"g":"2","x":492,"y":3.5},
{"g":"3","x":492,"y":3.8},{"g":"3","x":508,"y":4.2},{"g":"3","x":530,"y":3.7},{"g":"3","x":570,"y":3.8},{"g":"3","x":610,"y":3.6},{"g":"3","x":650,"y":3.7},{"g":"3","x":690,"y":3.5},
{"g":"4","x":690,"y":3.7},{"g":"4","x":720,"y":3.8},{"g":"4","x":750,"y":3.8},{"g":"4","x":790,"y":3.7},{"g":"4","x":820,"y":3.8},{"g":"4","x":860,"y":3.9},{"g":"4","x":881,"y":3.6},
{"g":"5","x":881,"y":3.6},{"g":"5","x":920,"y":3.7},{"g":"5","x":960,"y":3.8},{"g":"5","x":990,"y":3.9},{"g":"5","x":1008,"y":4.2},{"g":"5","x":1030,"y":3.8},{"g":"5","x":1062,"y":3.7},
{"g":"6","x":1062,"y":3.8},{"g":"6","x":1078,"y":3.9},{"g":"6","x":1100,"y":3.8},{"g":"6","x":1140,"y":3.8},{"g":"6","x":1160,"y":3.7},{"g":"6","x":1190,"y":3.7},{"g":"6","x":1215,"y":3.8},{"g":"6","x":1233,"y":3.6},
{"g":"7","x":1233,"y":3.7},{"g":"7","x":1270,"y":3.9},{"g":"7","x":1310,"y":3.8},{"g":"7","x":1350,"y":3.9},{"g":"7","x":1392,"y":3.6},
{"g":"8","x":1392,"y":3.8},{"g":"8","x":1420,"y":3.6},{"g":"8","x":1450,"y":3.7},{"g":"8","x":1480,"y":3.8},{"g":"8","x":1502,"y":3.9},{"g":"8","x":1525,"y":3.8},{"g":"8","x":1538,"y":3.6},
{"g":"9a","x":1538,"y":4.0},{"g":"9a","x":1560,"y":4.2},{"g":"9a","x":1580,"y":3.6},{"g":"9a","x":1590,"y":3.0},
{"g":"9b","x":1610,"y":3.5},{"g":"9b","x":1640,"y":3.8},{"g":"9b","x":1679,"y":3.7},
{"g":"10","x":1679,"y":3.6},{"g":"10","x":1700,"y":3.8},{"g":"10","x":1730,"y":3.9},{"g":"10","x":1758,"y":4.0},{"g":"10","x":1780,"y":3.9},{"g":"10","x":1800,"y":3.8},{"g":"10","x":1815,"y":3.6},
{"g":"11","x":1815,"y":3.8},{"g":"11","x":1850,"y":3.9},{"g":"11","x":1890,"y":4.0},{"g":"11","x":1920,"y":4.1},{"g":"11","x":1950,"y":3.8},
{"g":"12","x":1950,"y":3.7},{"g":"12","x":1980,"y":3.8},{"g":"12","x":2000,"y":3.9},{"g":"12","x":2020,"y":3.8},{"g":"12","x":2040,"y":3.7},{"g":"12","x":2060,"y":3.6},{"g":"12","x":2086,"y":3.5},
{"g":"13","x":2086,"y":3.7},{"g":"13","x":2130,"y":3.9},{"g":"13","x":2165,"y":4.1},{"g":"13","x":2196,"y":4.2},{"g":"13","x":2212,"y":3.8},
{"g":"14","x":2212,"y":3.7},{"g":"14","x":2250,"y":3.5},{"g":"14","x":2280,"y":3.4},{"g":"14","x":2306,"y":3.3},
{"g":"15","x":2306,"y":3.7},{"g":"15","x":2350,"y":3.7},{"g":"15","x":2380,"y":3.8},{"g":"15","x":2409,"y":3.5},
{"g":"16","x":2409,"y":3.6},{"g":"16","x":2430,"y":3.4},{"g":"16","x":2460,"y":3.5},{"g":"16","x":2485,"y":3.7},{"g":"16","x":2499,"y":3.6},
{"g":"17","x":2499,"y":3.7},{"g":"17","x":2520,"y":3.9},{"g":"17","x":2531,"y":4.1},{"g":"17","x":2550,"y":3.9},{"g":"17","x":2580,"y":3.7},
{"g":"18","x":2580,"y":3.7},{"g":"18","x":2600,"y":3.8},{"g":"18","x":2630,"y":3.8},{"g":"18","x":2658,"y":3.7},
{"g":"19","x":2658,"y":4.1},{"g":"19","x":2680,"y":4.1},{"g":"19","x":2700,"y":3.8},{"g":"19","x":2717,"y":3.7},
{"g":"20","x":2717,"y":3.8},{"g":"20","x":2740,"y":3.8},{"g":"20","x":2760,"y":3.6},{"g":"20","x":2788,"y":3.5},
{"g":"21","x":2788,"y":4.0},{"g":"21","x":2810,"y":4.2},{"g":"21","x":2843,"y":3.7},
{"g":"22","x":2843,"y":3.4},{"g":"22","x":2860,"y":3.2},{"g":"22","x":2886,"y":3.0},
{"g":"X","x":2886,"y":3.4},{"g":"X","x":2915,"y":3.7},{"g":"X","x":2950,"y":3.3},{"g":"X","x":2990,"y":3.2},{"g":"X","x":3034,"y":3.1}],
"s6":[{"g":"1a","x":115,"y":4.5},
{"g":"2","x":263,"y":4.9},{"g":"2","x":290,"y":4.6},{"g":"2","x":330,"y":4.4},{"g":"2","x":390,"y":4.2},{"g":"2","x":420,"y":4.1},{"g":"2","x":440,"y":4.3},{"g":"2","x":455,"y":5.0},{"g":"2","x":462,"y":4.6},{"g":"2","x":470,"y":4.4},
{"g":"3","x":508,"y":4.9},
{"g":"4","x":720,"y":4.3},{"g":"4","x":750,"y":4.4},{"g":"4","x":770,"y":4.2},{"g":"4","x":820,"y":4.2},{"g":"4","x":850,"y":4.3},{"g":"4","x":860,"y":4.6},
{"g":"6","x":1078,"y":4.9},{"g":"6","x":1090,"y":4.6},{"g":"6","x":1100,"y":4.4},{"g":"6","x":1140,"y":4.8},{"g":"6","x":1190,"y":4.1},{"g":"6","x":1215,"y":4.5},
{"g":"8","x":1394,"y":4.6},{"g":"8","x":1480,"y":4.2},{"g":"8","x":1502,"y":4.8},{"g":"8","x":1525,"y":4.6},
{"g":"9a","x":1560,"y":4.8},
{"g":"10","x":1700,"y":4.2},{"g":"10","x":1730,"y":4.6},{"g":"10","x":1758,"y":5.0},{"g":"10","x":1765,"y":4.7},{"g":"10","x":1780,"y":4.6},{"g":"10","x":1800,"y":4.1},
{"g":"12","x":1952,"y":4.5},{"g":"12","x":1980,"y":4.3},{"g":"12","x":2000,"y":5.0},{"g":"12","x":2008,"y":4.6},{"g":"12","x":2020,"y":4.3},
{"g":"13","x":2196,"y":5.0},
{"g":"14","x":2214,"y":4.2},
{"g":"16","x":2411,"y":4.0},{"g":"16","x":2485,"y":4.6},{"g":"16","x":2492,"y":4.2},
{"g":"17","x":2531,"y":5.0},
{"g":"18","x":2600,"y":4.3},{"g":"18","x":2630,"y":4.5},{"g":"18","x":2645,"y":4.2},
{"g":"20","x":2722,"y":4.3},{"g":"20","x":2740,"y":4.5},
{"g":"22","x":2846,"y":3.6}],
"p6":[{"g":"19","x":2665,"y":4.9},{"g":"21","x":2810,"y":5.0},
{"g":"G","x":476,"y":5.25},{"g":"G","x":508,"y":5.25},{"g":"G","x":1006,"y":5.3},{"g":"G","x":1093,"y":5.75},{"g":"G","x":1758,"y":5.15},{"g":"G","x":2005,"y":5.15},{"g":"G","x":2531,"y":11.0},{"g":"G","x":2531,"y":10.6},{"g":"G","x":2531,"y":7.0},{"g":"G","x":2531,"y":6.8},{"g":"G","x":2531,"y":6.6},{"g":"G","x":2531,"y":6.5},{"g":"G","x":2531,"y":5.8},{"g":"G","x":2531,"y":5.3}]
},
"vconcat":[
{"width":862,"height":151,"title":{"text":"CD3+ T cells"},"layer":[
{"data":{"values":[{"y":8}]},"mark":{"type":"rule","color":"#b0b0b0","strokeDash":[2,2],"strokeWidth":1},"encoding":{"y":{"field":"y","type":"quantitative","scale":{"domain":[-0.46,12.48],"nice":false,"zero":false},"axis":{"values":[0,2,4,6,8,10,12],"title":"-log10(P)"}}}},
{"data":{"values":[{"y":12.48}]},"mark":{"type":"rule","color":"#8c8c8c","strokeWidth":1.5},"encoding":{"y":{"field":"y","type":"quantitative","scale":{"domain":[-0.46,12.48],"nice":false,"zero":false},"axis":{"values":[0,2,4,6,8,10,12],"title":"-log10(P)"}}}},
{"data":{"name":"a1"},"mark":{"type":"area","clip":true},"encoding":{"x":{"field":"x","type":"quantitative","scale":{"domain":[-1,3002],"nice":false,"zero":false},"axis":{"values":[124,367,591,787,974,1151,1313,1471,1613,1755,1888,2022,2147,2257,2361,2455,2539,2616,2689,2751,2813,2860,2956],"labelExpr":"['1','2','3','4','5','6','7','8','9','10','11','12','13','14','15','16','17','18','19','20','21','22','X'][indexof([124,367,591,787,974,1151,1313,1471,1613,1755,1888,2022,2147,2257,2361,2455,2539,2616,2689,2751,2813,2860,2956],datum.value)]","title":null}},"y":{"field":"y","type":"quantitative","scale":{"domain":[-0.46,12.48],"nice":false,"zero":false},"axis":{"values":[0,2,4,6,8,10,12],"title":"-log10(P)"}},"y2":{"datum":-0.15},"color":{"field":"g","type":"nominal","scale":{"domain":["1a","1b","2","3","4","5","6","7","8","9a","9b","10","11","12","13","14","15","16","17","18","19","20","21","22","X","G"],"range":["#ADD8E6","#ADD8E6","#000080","#ADD8E6","#000080","#ADD8E6","#000080","#ADD8E6","#000080","#ADD8E6","#ADD8E6","#000080","#ADD8E6","#000080","#ADD8E6","#000080","#ADD8E6","#000080","#ADD8E6","#000080","#ADD8E6","#000080","#ADD8E6","#000080","#ADD8E6","#00C800"]},"legend":null}}},
{"data":{"name":"s1"},"mark":{"type":"rule","strokeWidth":4.5,"strokeCap":"round","clip":true},"encoding":{"x":{"field":"x","type":"quantitative","scale":{"domain":[-1,3002],"nice":false,"zero":false},"axis":{"values":[124,367,591,787,974,1151,1313,1471,1613,1755,1888,2022,2147,2257,2361,2455,2539,2616,2689,2751,2813,2860,2956],"labelExpr":"['1','2','3','4','5','6','7','8','9','10','11','12','13','14','15','16','17','18','19','20','21','22','X'][indexof([124,367,591,787,974,1151,1313,1471,1613,1755,1888,2022,2147,2257,2361,2455,2539,2616,2689,2751,2813,2860,2956],datum.value)]","title":null}},"y":{"field":"y","type":"quantitative","scale":{"domain":[-0.46,12.48],"nice":false,"zero":false},"axis":{"values":[0,2,4,6,8,10,12],"title":"-log10(P)"}},"y2":{"datum":0},"color":{"field":"g","type":"nominal","scale":{"domain":["1a","1b","2","3","4","5","6","7","8","9a","9b","10","11","12","13","14","15","16","17","18","19","20","21","22","X","G"],"range":["#ADD8E6","#ADD8E6","#000080","#ADD8E6","#000080","#ADD8E6","#000080","#ADD8E6","#000080","#ADD8E6","#ADD8E6","#000080","#ADD8E6","#000080","#ADD8E6","#000080","#ADD8E6","#000080","#ADD8E6","#000080","#ADD8E6","#000080","#ADD8E6","#000080","#ADD8E6","#00C800"]},"legend":null}}},
{"data":{"name":"p1"},"mark":{"type":"circle","size":18,"opacity":1,"clip":true},"encoding":{"x":{"field":"x","type":"quantitative","scale":{"domain":[-1,3002],"nice":false,"zero":false},"axis":{"values":[124,367,591,787,974,1151,1313,1471,1613,1755,1888,2022,2147,2257,2361,2455,2539,2616,2689,2751,2813,2860,2956],"labelExpr":"['1','2','3','4','5','6','7','8','9','10','11','12','13','14','15','16','17','18','19','20','21','22','X'][indexof([124,367,591,787,974,1151,1313,1471,1613,1755,1888,2022,2147,2257,2361,2455,2539,2616,2689,2751,2813,2860,2956],datum.value)]","title":null}},"y":{"field":"y","type":"quantitative","scale":{"domain":[-0.46,12.48],"nice":false,"zero":false},"axis":{"values":[0,2,4,6,8,10,12],"title":"-log10(P)"}},"color":{"field":"g","type":"nominal","scale":{"domain":["1a","1b","2","3","4","5","6","7","8","9a","9b","10","11","12","13","14","15","16","17","18","19","20","21","22","X","G"],"range":["#ADD8E6","#ADD8E6","#000080","#ADD8E6","#000080","#ADD8E6","#000080","#ADD8E6","#000080","#ADD8E6","#ADD8E6","#000080","#ADD8E6","#000080","#ADD8E6","#000080","#ADD8E6","#000080","#ADD8E6","#000080","#ADD8E6","#000080","#ADD8E6","#000080","#ADD8E6","#00C800"]},"legend":null}}}
]},
{"width":862,"height":151,"title":{"text":"CD4+ T cells"},"layer":[
{"data":{"values":[{"y":8}]},"mark":{"type":"rule","color":"#b0b0b0","strokeDash":[2,2],"strokeWidth":1},"encoding":{"y":{"field":"y","type":"quantitative","scale":{"domain":[-0.46,12.48],"nice":false,"zero":false},"axis":{"values":[0,2,4,6,8,10,12],"title":"-log10(P)"}}}},
{"data":{"values":[{"y":12.48}]},"mark":{"type":"rule","color":"#8c8c8c","strokeWidth":1.5},"encoding":{"y":{"field":"y","type":"quantitative","scale":{"domain":[-0.46,12.48],"nice":false,"zero":false},"axis":{"values":[0,2,4,6,8,10,12],"title":"-log10(P)"}}}},
{"data":{"name":"a2"},"mark":{"type":"area","clip":true},"encoding":{"x":{"field":"x","type":"quantitative","scale":{"domain":[-1,3002],"nice":false,"zero":false},"axis":{"values":[124,367,591,787,974,1151,1313,1471,1613,1755,1888,2022,2147,2257,2361,2455,2539,2616,2689,2751,2813,2860,2956],"labelExpr":"['1','2','3','4','5','6','7','8','9','10','11','12','13','14','15','16','17','18','19','20','21','22','X'][indexof([124,367,591,787,974,1151,1313,1471,1613,1755,1888,2022,2147,2257,2361,2455,2539,2616,2689,2751,2813,2860,2956],datum.value)]","title":null}},"y":{"field":"y","type":"quantitative","scale":{"domain":[-0.46,12.48],"nice":false,"zero":false},"axis":{"values":[0,2,4,6,8,10,12],"title":"-log10(P)"}},"y2":{"datum":-0.15},"color":{"field":"g","type":"nominal","scale":{"domain":["1a","1b","2","3","4","5","6","7","8","9a","9b","10","11","12","13","14","15","16","17","18","19","20","21","22","X","G"],"range":["#ADD8E6","#ADD8E6","#000080","#ADD8E6","#000080","#ADD8E6","#000080","#ADD8E6","#000080","#ADD8E6","#ADD8E6","#000080","#ADD8E6","#000080","#ADD8E6","#000080","#ADD8E6","#000080","#ADD8E6","#000080","#ADD8E6","#000080","#ADD8E6","#000080","#ADD8E6","#00C800"]},"legend":null}}},
{"data":{"name":"s2"},"mark":{"type":"rule","strokeWidth":4.5,"strokeCap":"round","clip":true},"encoding":{"x":{"field":"x","type":"quantitative","scale":{"domain":[-1,3002],"nice":false,"zero":false},"axis":{"values":[124,367,591,787,974,1151,1313,1471,1613,1755,1888,2022,2147,2257,2361,2455,2539,2616,2689,2751,2813,2860,2956],"labelExpr":"['1','2','3','4','5','6','7','8','9','10','11','12','13','14','15','16','17','18','19','20','21','22','X'][indexof([124,367,591,787,974,1151,1313,1471,1613,1755,1888,2022,2147,2257,2361,2455,2539,2616,2689,2751,2813,2860,2956],datum.value)]","title":null}},"y":{"field":"y","type":"quantitative","scale":{"domain":[-0.46,12.48],"nice":false,"zero":false},"axis":{"values":[0,2,4,6,8,10,12],"title":"-log10(P)"}},"y2":{"datum":0},"color":{"field":"g","type":"nominal","scale":{"domain":["1a","1b","2","3","4","5","6","7","8","9a","9b","10","11","12","13","14","15","16","17","18","19","20","21","22","X","G"],"range":["#ADD8E6","#ADD8E6","#000080","#ADD8E6","#000080","#ADD8E6","#000080","#ADD8E6","#000080","#ADD8E6","#ADD8E6","#000080","#ADD8E6","#000080","#ADD8E6","#000080","#ADD8E6","#000080","#ADD8E6","#000080","#ADD8E6","#000080","#ADD8E6","#000080","#ADD8E6","#00C800"]},"legend":null}}},
{"data":{"name":"p2"},"mark":{"type":"circle","size":18,"opacity":1,"clip":true},"encoding":{"x":{"field":"x","type":"quantitative","scale":{"domain":[-1,3002],"nice":false,"zero":false},"axis":{"values":[124,367,591,787,974,1151,1313,1471,1613,1755,1888,2022,2147,2257,2361,2455,2539,2616,2689,2751,2813,2860,2956],"labelExpr":"['1','2','3','4','5','6','7','8','9','10','11','12','13','14','15','16','17','18','19','20','21','22','X'][indexof([124,367,591,787,974,1151,1313,1471,1613,1755,1888,2022,2147,2257,2361,2455,2539,2616,2689,2751,2813,2860,2956],datum.value)]","title":null}},"y":{"field":"y","type":"quantitative","scale":{"domain":[-0.46,12.48],"nice":false,"zero":false},"axis":{"values":[0,2,4,6,8,10,12],"title":"-log10(P)"}},"color":{"field":"g","type":"nominal","scale":{"domain":["1a","1b","2","3","4","5","6","7","8","9a","9b","10","11","12","13","14","15","16","17","18","19","20","21","22","X","G"],"range":["#ADD8E6","#ADD8E6","#000080","#ADD8E6","#000080","#ADD8E6","#000080","#ADD8E6","#000080","#ADD8E6","#ADD8E6","#000080","#ADD8E6","#000080","#ADD8E6","#000080","#ADD8E6","#000080","#ADD8E6","#000080","#ADD8E6","#000080","#ADD8E6","#000080","#ADD8E6","#00C800"]},"legend":null}}}
]},
{"width":862,"height":151,"title":{"text":"CD8+ T cells"},"layer":[
{"data":{"values":[{"y":8}]},"mark":{"type":"rule","color":"#b0b0b0","strokeDash":[2,2],"strokeWidth":1},"encoding":{"y":{"field":"y","type":"quantitative","scale":{"domain":[-0.46,12.48],"nice":false,"zero":false},"axis":{"values":[0,2,4,6,8,10,12],"title":"-log10(P)"}}}},
{"data":{"values":[{"y":12.48}]},"mark":{"type":"rule","color":"#8c8c8c","strokeWidth":1.5},"encoding":{"y":{"field":"y","type":"quantitative","scale":{"domain":[-0.46,12.48],"nice":false,"zero":false},"axis":{"values":[0,2,4,6,8,10,12],"title":"-log10(P)"}}}},
{"data":{"name":"a3"},"mark":{"type":"area","clip":true},"encoding":{"x":{"field":"x","type":"quantitative","scale":{"domain":[-1,3002],"nice":false,"zero":false},"axis":{"values":[124,367,591,787,974,1151,1313,1471,1613,1755,1888,2022,2147,2257,2361,2455,2539,2616,2689,2751,2813,2860,2956],"labelExpr":"['1','2','3','4','5','6','7','8','9','10','11','12','13','14','15','16','17','18','19','20','21','22','X'][indexof([124,367,591,787,974,1151,1313,1471,1613,1755,1888,2022,2147,2257,2361,2455,2539,2616,2689,2751,2813,2860,2956],datum.value)]","title":null}},"y":{"field":"y","type":"quantitative","scale":{"domain":[-0.46,12.48],"nice":false,"zero":false},"axis":{"values":[0,2,4,6,8,10,12],"title":"-log10(P)"}},"y2":{"datum":-0.15},"color":{"field":"g","type":"nominal","scale":{"domain":["1a","1b","2","3","4","5","6","7","8","9a","9b","10","11","12","13","14","15","16","17","18","19","20","21","22","X","G"],"range":["#ADD8E6","#ADD8E6","#000080","#ADD8E6","#000080","#ADD8E6","#000080","#ADD8E6","#000080","#ADD8E6","#ADD8E6","#000080","#ADD8E6","#000080","#ADD8E6","#000080","#ADD8E6","#000080","#ADD8E6","#000080","#ADD8E6","#000080","#ADD8E6","#000080","#ADD8E6","#00C800"]},"legend":null}}},
{"data":{"name":"s3"},"mark":{"type":"rule","strokeWidth":4.5,"strokeCap":"round","clip":true},"encoding":{"x":{"field":"x","type":"quantitative","scale":{"domain":[-1,3002],"nice":false,"zero":false},"axis":{"values":[124,367,591,787,974,1151,1313,1471,1613,1755,1888,2022,2147,2257,2361,2455,2539,2616,2689,2751,2813,2860,2956],"labelExpr":"['1','2','3','4','5','6','7','8','9','10','11','12','13','14','15','16','17','18','19','20','21','22','X'][indexof([124,367,591,787,974,1151,1313,1471,1613,1755,1888,2022,2147,2257,2361,2455,2539,2616,2689,2751,2813,2860,2956],datum.value)]","title":null}},"y":{"field":"y","type":"quantitative","scale":{"domain":[-0.46,12.48],"nice":false,"zero":false},"axis":{"values":[0,2,4,6,8,10,12],"title":"-log10(P)"}},"y2":{"datum":0},"color":{"field":"g","type":"nominal","scale":{"domain":["1a","1b","2","3","4","5","6","7","8","9a","9b","10","11","12","13","14","15","16","17","18","19","20","21","22","X","G"],"range":["#ADD8E6","#ADD8E6","#000080","#ADD8E6","#000080","#ADD8E6","#000080","#ADD8E6","#000080","#ADD8E6","#ADD8E6","#000080","#ADD8E6","#000080","#ADD8E6","#000080","#ADD8E6","#000080","#ADD8E6","#000080","#ADD8E6","#000080","#ADD8E6","#000080","#ADD8E6","#00C800"]},"legend":null}}},
{"data":{"name":"p3"},"mark":{"type":"circle","size":18,"opacity":1,"clip":true},"encoding":{"x":{"field":"x","type":"quantitative","scale":{"domain":[-1,3002],"nice":false,"zero":false},"axis":{"values":[124,367,591,787,974,1151,1313,1471,1613,1755,1888,2022,2147,2257,2361,2455,2539,2616,2689,2751,2813,2860,2956],"labelExpr":"['1','2','3','4','5','6','7','8','9','10','11','12','13','14','15','16','17','18','19','20','21','22','X'][indexof([124,367,591,787,974,1151,1313,1471,1613,1755,1888,2022,2147,2257,2361,2455,2539,2616,2689,2751,2813,2860,2956],datum.value)]","title":null}},"y":{"field":"y","type":"quantitative","scale":{"domain":[-0.46,12.48],"nice":false,"zero":false},"axis":{"values":[0,2,4,6,8,10,12],"title":"-log10(P)"}},"color":{"field":"g","type":"nominal","scale":{"domain":["1a","1b","2","3","4","5","6","7","8","9a","9b","10","11","12","13","14","15","16","17","18","19","20","21","22","X","G"],"range":["#ADD8E6","#ADD8E6","#000080","#ADD8E6","#000080","#ADD8E6","#000080","#ADD8E6","#000080","#ADD8E6","#ADD8E6","#000080","#ADD8E6","#000080","#ADD8E6","#000080","#ADD8E6","#000080","#ADD8E6","#000080","#ADD8E6","#000080","#ADD8E6","#000080","#ADD8E6","#00C800"]},"legend":null}}}
]},
{"width":862,"height":151,"title":{"text":"CD4:CD8 ratio"},"layer":[
{"data":{"values":[{"y":8}]},"mark":{"type":"rule","color":"#b0b0b0","strokeDash":[2,2],"strokeWidth":1},"encoding":{"y":{"field":"y","type":"quantitative","scale":{"domain":[-0.46,12.48],"nice":false,"zero":false},"axis":{"values":[0,2,4,6,8,10,12],"title":"-log10(P)"}}}},
{"data":{"values":[{"y":12.48}]},"mark":{"type":"rule","color":"#8c8c8c","strokeWidth":1.5},"encoding":{"y":{"field":"y","type":"quantitative","scale":{"domain":[-0.46,12.48],"nice":false,"zero":false},"axis":{"values":[0,2,4,6,8,10,12],"title":"-log10(P)"}}}},
{"data":{"name":"a4"},"mark":{"type":"area","clip":true},"encoding":{"x":{"field":"x","type":"quantitative","scale":{"domain":[-1,3002],"nice":false,"zero":false},"axis":{"values":[124,367,591,787,974,1151,1313,1471,1613,1755,1888,2022,2147,2257,2361,2455,2539,2616,2689,2751,2813,2860,2956],"labelExpr":"['1','2','3','4','5','6','7','8','9','10','11','12','13','14','15','16','17','18','19','20','21','22','X'][indexof([124,367,591,787,974,1151,1313,1471,1613,1755,1888,2022,2147,2257,2361,2455,2539,2616,2689,2751,2813,2860,2956],datum.value)]","title":null}},"y":{"field":"y","type":"quantitative","scale":{"domain":[-0.46,12.48],"nice":false,"zero":false},"axis":{"values":[0,2,4,6,8,10,12],"title":"-log10(P)"}},"y2":{"datum":-0.15},"color":{"field":"g","type":"nominal","scale":{"domain":["1a","1b","2","3","4","5","6","7","8","9a","9b","10","11","12","13","14","15","16","17","18","19","20","21","22","X","G"],"range":["#ADD8E6","#ADD8E6","#000080","#ADD8E6","#000080","#ADD8E6","#000080","#ADD8E6","#000080","#ADD8E6","#ADD8E6","#000080","#ADD8E6","#000080","#ADD8E6","#000080","#ADD8E6","#000080","#ADD8E6","#000080","#ADD8E6","#000080","#ADD8E6","#000080","#ADD8E6","#00C800"]},"legend":null}}},
{"data":{"name":"s4"},"mark":{"type":"rule","strokeWidth":4.5,"strokeCap":"round","clip":true},"encoding":{"x":{"field":"x","type":"quantitative","scale":{"domain":[-1,3002],"nice":false,"zero":false},"axis":{"values":[124,367,591,787,974,1151,1313,1471,1613,1755,1888,2022,2147,2257,2361,2455,2539,2616,2689,2751,2813,2860,2956],"labelExpr":"['1','2','3','4','5','6','7','8','9','10','11','12','13','14','15','16','17','18','19','20','21','22','X'][indexof([124,367,591,787,974,1151,1313,1471,1613,1755,1888,2022,2147,2257,2361,2455,2539,2616,2689,2751,2813,2860,2956],datum.value)]","title":null}},"y":{"field":"y","type":"quantitative","scale":{"domain":[-0.46,12.48],"nice":false,"zero":false},"axis":{"values":[0,2,4,6,8,10,12],"title":"-log10(P)"}},"y2":{"datum":0},"color":{"field":"g","type":"nominal","scale":{"domain":["1a","1b","2","3","4","5","6","7","8","9a","9b","10","11","12","13","14","15","16","17","18","19","20","21","22","X","G"],"range":["#ADD8E6","#ADD8E6","#000080","#ADD8E6","#000080","#ADD8E6","#000080","#ADD8E6","#000080","#ADD8E6","#ADD8E6","#000080","#ADD8E6","#000080","#ADD8E6","#000080","#ADD8E6","#000080","#ADD8E6","#000080","#ADD8E6","#000080","#ADD8E6","#000080","#ADD8E6","#00C800"]},"legend":null}}},
{"data":{"name":"p4"},"mark":{"type":"circle","size":18,"opacity":1,"clip":true},"encoding":{"x":{"field":"x","type":"quantitative","scale":{"domain":[-1,3002],"nice":false,"zero":false},"axis":{"values":[124,367,591,787,974,1151,1313,1471,1613,1755,1888,2022,2147,2257,2361,2455,2539,2616,2689,2751,2813,2860,2956],"labelExpr":"['1','2','3','4','5','6','7','8','9','10','11','12','13','14','15','16','17','18','19','20','21','22','X'][indexof([124,367,591,787,974,1151,1313,1471,1613,1755,1888,2022,2147,2257,2361,2455,2539,2616,2689,2751,2813,2860,2956],datum.value)]","title":null}},"y":{"field":"y","type":"quantitative","scale":{"domain":[-0.46,12.48],"nice":false,"zero":false},"axis":{"values":[0,2,4,6,8,10,12],"title":"-log10(P)"}},"color":{"field":"g","type":"nominal","scale":{"domain":["1a","1b","2","3","4","5","6","7","8","9a","9b","10","11","12","13","14","15","16","17","18","19","20","21","22","X","G"],"range":["#ADD8E6","#ADD8E6","#000080","#ADD8E6","#000080","#ADD8E6","#000080","#ADD8E6","#000080","#ADD8E6","#ADD8E6","#000080","#ADD8E6","#000080","#ADD8E6","#000080","#ADD8E6","#000080","#ADD8E6","#000080","#ADD8E6","#000080","#ADD8E6","#000080","#ADD8E6","#00C800"]},"legend":null}}}
]},
{"width":862,"height":151,"title":{"text":"CD19+ B cells"},"layer":[
{"data":{"values":[{"y":8}]},"mark":{"type":"rule","color":"#b0b0b0","strokeDash":[2,2],"strokeWidth":1},"encoding":{"y":{"field":"y","type":"quantitative","scale":{"domain":[-0.46,12.48],"nice":false,"zero":false},"axis":{"values":[0,2,4,6,8,10,12],"title":"-log10(P)"}}}},
{"data":{"values":[{"y":12.48}]},"mark":{"type":"rule","color":"#8c8c8c","strokeWidth":1.5},"encoding":{"y":{"field":"y","type":"quantitative","scale":{"domain":[-0.46,12.48],"nice":false,"zero":false},"axis":{"values":[0,2,4,6,8,10,12],"title":"-log10(P)"}}}},
{"data":{"name":"a5"},"mark":{"type":"area","clip":true},"encoding":{"x":{"field":"x","type":"quantitative","scale":{"domain":[-1,3002],"nice":false,"zero":false},"axis":{"values":[124,367,591,787,974,1151,1313,1471,1613,1755,1888,2022,2147,2257,2361,2455,2539,2616,2689,2751,2813,2860,2956],"labelExpr":"['1','2','3','4','5','6','7','8','9','10','11','12','13','14','15','16','17','18','19','20','21','22','X'][indexof([124,367,591,787,974,1151,1313,1471,1613,1755,1888,2022,2147,2257,2361,2455,2539,2616,2689,2751,2813,2860,2956],datum.value)]","title":null}},"y":{"field":"y","type":"quantitative","scale":{"domain":[-0.46,12.48],"nice":false,"zero":false},"axis":{"values":[0,2,4,6,8,10,12],"title":"-log10(P)"}},"y2":{"datum":-0.15},"color":{"field":"g","type":"nominal","scale":{"domain":["1a","1b","2","3","4","5","6","7","8","9a","9b","10","11","12","13","14","15","16","17","18","19","20","21","22","X","G"],"range":["#ADD8E6","#ADD8E6","#000080","#ADD8E6","#000080","#ADD8E6","#000080","#ADD8E6","#000080","#ADD8E6","#ADD8E6","#000080","#ADD8E6","#000080","#ADD8E6","#000080","#ADD8E6","#000080","#ADD8E6","#000080","#ADD8E6","#000080","#ADD8E6","#000080","#ADD8E6","#00C800"]},"legend":null}}},
{"data":{"name":"s5"},"mark":{"type":"rule","strokeWidth":4.5,"strokeCap":"round","clip":true},"encoding":{"x":{"field":"x","type":"quantitative","scale":{"domain":[-1,3002],"nice":false,"zero":false},"axis":{"values":[124,367,591,787,974,1151,1313,1471,1613,1755,1888,2022,2147,2257,2361,2455,2539,2616,2689,2751,2813,2860,2956],"labelExpr":"['1','2','3','4','5','6','7','8','9','10','11','12','13','14','15','16','17','18','19','20','21','22','X'][indexof([124,367,591,787,974,1151,1313,1471,1613,1755,1888,2022,2147,2257,2361,2455,2539,2616,2689,2751,2813,2860,2956],datum.value)]","title":null}},"y":{"field":"y","type":"quantitative","scale":{"domain":[-0.46,12.48],"nice":false,"zero":false},"axis":{"values":[0,2,4,6,8,10,12],"title":"-log10(P)"}},"y2":{"datum":0},"color":{"field":"g","type":"nominal","scale":{"domain":["1a","1b","2","3","4","5","6","7","8","9a","9b","10","11","12","13","14","15","16","17","18","19","20","21","22","X","G"],"range":["#ADD8E6","#ADD8E6","#000080","#ADD8E6","#000080","#ADD8E6","#000080","#ADD8E6","#000080","#ADD8E6","#ADD8E6","#000080","#ADD8E6","#000080","#ADD8E6","#000080","#ADD8E6","#000080","#ADD8E6","#000080","#ADD8E6","#000080","#ADD8E6","#000080","#ADD8E6","#00C800"]},"legend":null}}},
{"data":{"name":"p5"},"mark":{"type":"circle","size":18,"opacity":1,"clip":true},"encoding":{"x":{"field":"x","type":"quantitative","scale":{"domain":[-1,3002],"nice":false,"zero":false},"axis":{"values":[124,367,591,787,974,1151,1313,1471,1613,1755,1888,2022,2147,2257,2361,2455,2539,2616,2689,2751,2813,2860,2956],"labelExpr":"['1','2','3','4','5','6','7','8','9','10','11','12','13','14','15','16','17','18','19','20','21','22','X'][indexof([124,367,591,787,974,1151,1313,1471,1613,1755,1888,2022,2147,2257,2361,2455,2539,2616,2689,2751,2813,2860,2956],datum.value)]","title":null}},"y":{"field":"y","type":"quantitative","scale":{"domain":[-0.46,12.48],"nice":false,"zero":false},"axis":{"values":[0,2,4,6,8,10,12],"title":"-log10(P)"}},"color":{"field":"g","type":"nominal","scale":{"domain":["1a","1b","2","3","4","5","6","7","8","9a","9b","10","11","12","13","14","15","16","17","18","19","20","21","22","X","G"],"range":["#ADD8E6","#ADD8E6","#000080","#ADD8E6","#000080","#ADD8E6","#000080","#ADD8E6","#000080","#ADD8E6","#ADD8E6","#000080","#ADD8E6","#000080","#ADD8E6","#000080","#ADD8E6","#000080","#ADD8E6","#000080","#ADD8E6","#000080","#ADD8E6","#000080","#ADD8E6","#00C800"]},"legend":null}}}
]},
{"width":862,"height":151,"title":{"text":"CD56+ NK cells"},"layer":[
{"data":{"values":[{"y":8}]},"mark":{"type":"rule","color":"#b0b0b0","strokeDash":[2,2],"strokeWidth":1},"encoding":{"y":{"field":"y","type":"quantitative","scale":{"domain":[-0.46,12.48],"nice":false,"zero":false},"axis":{"values":[0,2,4,6,8,10,12],"title":"-log10(P)"}}}},
{"data":{"values":[{"y":12.48}]},"mark":{"type":"rule","color":"#8c8c8c","strokeWidth":1.5},"encoding":{"y":{"field":"y","type":"quantitative","scale":{"domain":[-0.46,12.48],"nice":false,"zero":false},"axis":{"values":[0,2,4,6,8,10,12],"title":"-log10(P)"}}}},
{"data":{"name":"a6"},"mark":{"type":"area","clip":true},"encoding":{"x":{"field":"x","type":"quantitative","scale":{"domain":[-1,3002],"nice":false,"zero":false},"axis":{"values":[124,367,591,787,974,1151,1313,1471,1613,1755,1888,2022,2147,2257,2361,2455,2539,2616,2689,2751,2813,2860,2956],"labelExpr":"['1','2','3','4','5','6','7','8','9','10','11','12','13','14','15','16','17','18','19','20','21','22','X'][indexof([124,367,591,787,974,1151,1313,1471,1613,1755,1888,2022,2147,2257,2361,2455,2539,2616,2689,2751,2813,2860,2956],datum.value)]","title":"Chromosome"}},"y":{"field":"y","type":"quantitative","scale":{"domain":[-0.46,12.48],"nice":false,"zero":false},"axis":{"values":[0,2,4,6,8,10,12],"title":"-log10(P)"}},"y2":{"datum":-0.15},"color":{"field":"g","type":"nominal","scale":{"domain":["1a","1b","2","3","4","5","6","7","8","9a","9b","10","11","12","13","14","15","16","17","18","19","20","21","22","X","G"],"range":["#ADD8E6","#ADD8E6","#000080","#ADD8E6","#000080","#ADD8E6","#000080","#ADD8E6","#000080","#ADD8E6","#ADD8E6","#000080","#ADD8E6","#000080","#ADD8E6","#000080","#ADD8E6","#000080","#ADD8E6","#000080","#ADD8E6","#000080","#ADD8E6","#000080","#ADD8E6","#00C800"]},"legend":null}}},
{"data":{"name":"s6"},"mark":{"type":"rule","strokeWidth":4.5,"strokeCap":"round","clip":true},"encoding":{"x":{"field":"x","type":"quantitative","scale":{"domain":[-1,3002],"nice":false,"zero":false},"axis":{"values":[124,367,591,787,974,1151,1313,1471,1613,1755,1888,2022,2147,2257,2361,2455,2539,2616,2689,2751,2813,2860,2956],"labelExpr":"['1','2','3','4','5','6','7','8','9','10','11','12','13','14','15','16','17','18','19','20','21','22','X'][indexof([124,367,591,787,974,1151,1313,1471,1613,1755,1888,2022,2147,2257,2361,2455,2539,2616,2689,2751,2813,2860,2956],datum.value)]","title":"Chromosome"}},"y":{"field":"y","type":"quantitative","scale":{"domain":[-0.46,12.48],"nice":false,"zero":false},"axis":{"values":[0,2,4,6,8,10,12],"title":"-log10(P)"}},"y2":{"datum":0},"color":{"field":"g","type":"nominal","scale":{"domain":["1a","1b","2","3","4","5","6","7","8","9a","9b","10","11","12","13","14","15","16","17","18","19","20","21","22","X","G"],"range":["#ADD8E6","#ADD8E6","#000080","#ADD8E6","#000080","#ADD8E6","#000080","#ADD8E6","#000080","#ADD8E6","#ADD8E6","#000080","#ADD8E6","#000080","#ADD8E6","#000080","#ADD8E6","#000080","#ADD8E6","#000080","#ADD8E6","#000080","#ADD8E6","#000080","#ADD8E6","#00C800"]},"legend":null}}},
{"data":{"name":"p6"},"mark":{"type":"circle","size":18,"opacity":1,"clip":true},"encoding":{"x":{"field":"x","type":"quantitative","scale":{"domain":[-1,3002],"nice":false,"zero":false},"axis":{"values":[124,367,591,787,974,1151,1313,1471,1613,1755,1888,2022,2147,2257,2361,2455,2539,2616,2689,2751,2813,2860,2956],"labelExpr":"['1','2','3','4','5','6','7','8','9','10','11','12','13','14','15','16','17','18','19','20','21','22','X'][indexof([124,367,591,787,974,1151,1313,1471,1613,1755,1888,2022,2147,2257,2361,2455,2539,2616,2689,2751,2813,2860,2956],datum.value)]","title":"Chromosome"}},"y":{"field":"y","type":"quantitative","scale":{"domain":[-0.46,12.48],"nice":false,"zero":false},"axis":{"values":[0,2,4,6,8,10,12],"title":"-log10(P)"}},"color":{"field":"g","type":"nominal","scale":{"domain":["1a","1b","2","3","4","5","6","7","8","9a","9b","10","11","12","13","14","15","16","17","18","19","20","21","22","X","G"],"range":["#ADD8E6","#ADD8E6","#000080","#ADD8E6","#000080","#ADD8E6","#000080","#ADD8E6","#000080","#ADD8E6","#ADD8E6","#000080","#ADD8E6","#000080","#ADD8E6","#000080","#ADD8E6","#000080","#ADD8E6","#000080","#ADD8E6","#000080","#ADD8E6","#000080","#ADD8E6","#00C800"]},"legend":null}}}
]}
],
"spacing":93.4,
"bounds":"flush"
}
